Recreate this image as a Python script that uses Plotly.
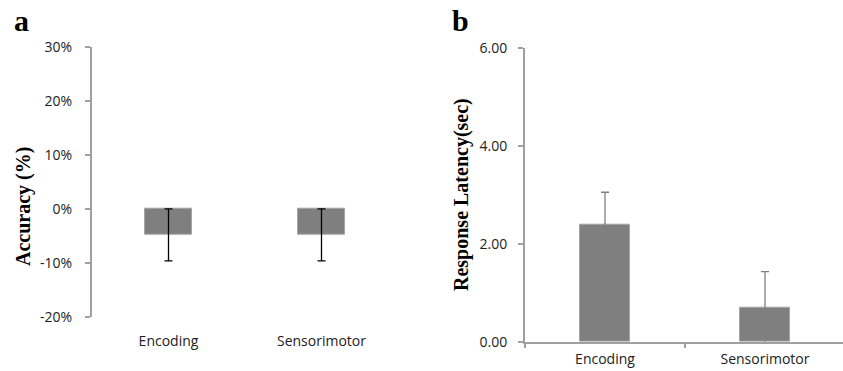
import plotly.graph_objects as go

W, H = 843, 371

categories = ["Encoding", "Sensorimotor"]

# Panel a: accuracy (%)
acc_values = [-4.8, -4.8]
acc_errors = [4.8, 4.8]
acc_tickvals = [-20, -10, 0, 10, 20, 30]
acc_ticktext = ["-20%", "-10%", "0%", "10%", "20%", "30%"]

# Panel b: response latency (sec)
lat_values = [2.38, 0.70]
lat_errors = [0.67, 0.73]
lat_tickvals = [0, 2, 4, 6]
lat_ticktext = ["0.00", "2.00", "4.00", "6.00"]

AXC = "#A0A0A0"
BARC = "#7F7F7F"
TXT = "#222222"
TICKFONT = dict(family="Open Sans", size=14, color=TXT)

def px_x(p):
    return p / W

def px_y(p):
    return (H - p) / H

fig = go.Figure()

fig.add_trace(go.Bar(
    x=categories, y=acc_values, xaxis="x", yaxis="y",
    width=0.31, marker=dict(color=BARC, line=dict(color="#A6A6A6", width=1)),
    error_y=dict(type="data", array=acc_errors, color="black", thickness=1.3, width=4),
    showlegend=False,
))
fig.add_trace(go.Bar(
    x=categories, y=lat_values, xaxis="x2", yaxis="y2",
    width=0.31, marker=dict(color=BARC, line=dict(color="#A6A6A6", width=1)),
    error_y=dict(type="data", array=lat_errors, color="#808080", thickness=1.3, width=4),
    showlegend=False,
))

# panel a geometry
a_x0, a_x1 = 92, 398
a_ytop, a_ybot = 46.7, 317
a_range = [-20, 30]
a_dom_y = [px_y(a_ybot), px_y(a_ytop)]
zero_pos = a_dom_y[0] + (0 - a_range[0]) / (a_range[1] - a_range[0]) * (a_dom_y[1] - a_dom_y[0])

# panel b geometry
b_x0 = 525
b_ytop, b_ybot = 47.7, 341.7
b_cat_px = 160.0
b_right = -0.5 + (W - b_x0) / b_cat_px

fig.update_layout(
    width=W, height=H,
    margin=dict(l=0, r=0, t=0, b=0, autoexpand=False),
    paper_bgcolor="white", plot_bgcolor="white",
    bargap=0,
    xaxis=dict(
        domain=[px_x(a_x0), px_x(a_x1)], anchor="y", type="category",
        range=[-0.5, 1.5], showline=False, ticks="", showgrid=False,
        tickfont=TICKFONT, ticklabelstandoff=14, zeroline=False, automargin=False,
    ),
    yaxis=dict(
        domain=a_dom_y, anchor="x", range=a_range,
        tickvals=acc_tickvals, ticktext=acc_ticktext,
        showline=True, linecolor=AXC, linewidth=2, ticks="outside",
        tickcolor=AXC, ticklen=5, tickwidth=1.5, showgrid=False, zeroline=False,
        tickfont=TICKFONT, ticklabelstandoff=10, automargin=False,
    ),
    xaxis3=dict(
        domain=[px_x(a_x0), px_x(a_x1)], anchor="free", position=zero_pos,
        overlaying="x", range=[-0.5, 1.5], type="linear",
        showline=True, linecolor=AXC, linewidth=2, ticks="outside",
        tickvals=[0.5, 1.5], ticklen=4, tickwidth=1.5, tickcolor=AXC,
        showticklabels=False, showgrid=False, zeroline=False, automargin=False,
    ),
    xaxis2=dict(
        domain=[px_x(b_x0), 1.0], anchor="y2", type="category",
        range=[-0.5, b_right], showline=True, linecolor=AXC, linewidth=2,
        ticks="outside", tickson="boundaries", ticklen=4, tickwidth=1.5, tickcolor=AXC,
        showgrid=False, tickfont=TICKFONT, ticklabelstandoff=3, automargin=False,
    ),
    yaxis2=dict(
        domain=[px_y(b_ybot), px_y(b_ytop)], anchor="x2", range=[0, 6],
        tickvals=lat_tickvals, ticktext=lat_ticktext,
        showline=True, linecolor=AXC, linewidth=2, ticks="outside",
        tickcolor=AXC, ticklen=5, tickwidth=1.5, showgrid=False, zeroline=False,
        tickfont=TICKFONT, ticklabelstandoff=8, automargin=False,
    ),
)

SERIF = "Liberation Serif"
fig.add_annotation(text="<b>a</b>", xref="paper", yref="paper",
                   x=px_x(21.5), y=px_y(21), xanchor="center", yanchor="middle",
                   showarrow=False, font=dict(family=SERIF, size=30, color="black"))
fig.add_annotation(text="<b>b</b>", xref="paper", yref="paper",
                   x=px_x(460), y=px_y(21), xanchor="center", yanchor="middle",
                   showarrow=False, font=dict(family=SERIF, size=30, color="black"))
fig.add_annotation(text="<b>Accuracy (%)</b>", xref="paper", yref="paper",
                   x=px_x(23), y=px_y(207), xanchor="center", yanchor="middle",
                   textangle=-90, showarrow=False,
                   font=dict(family=SERIF, size=20, color="black"))
fig.add_annotation(text="<b>Response Latency(sec)</b>", xref="paper", yref="paper",
                   x=px_x(462), y=px_y(195), xanchor="center", yanchor="middle",
                   textangle=-90, showarrow=False,
                   font=dict(family=SERIF, size=20, color="black"))

fig.write_html("out.html")
